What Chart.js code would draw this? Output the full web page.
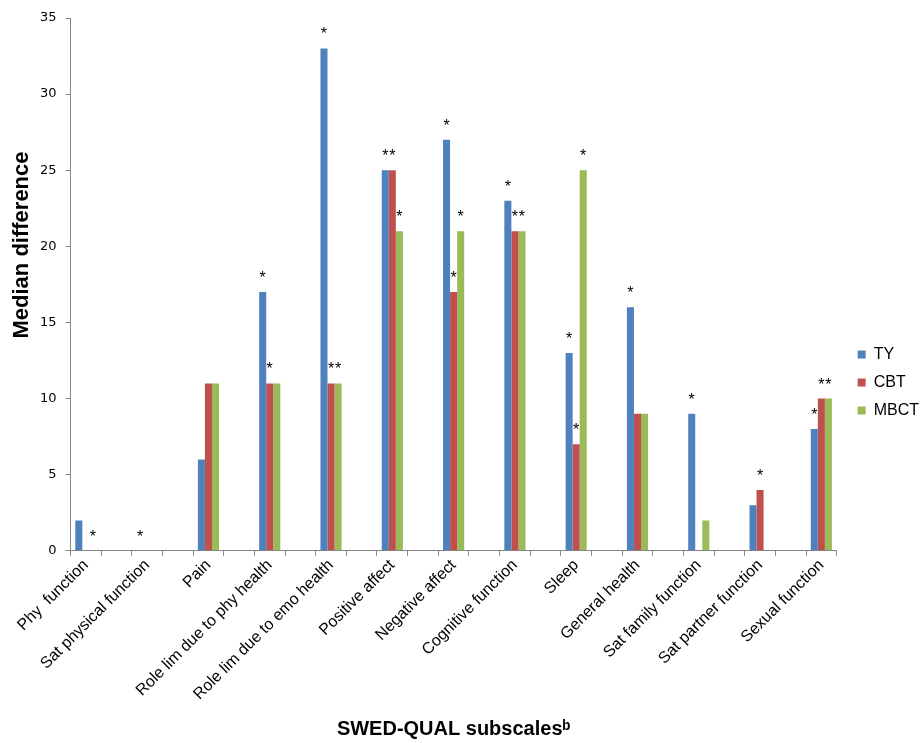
<!DOCTYPE html>
<html>
<head>
<meta charset="utf-8">
<script src="https://cdn.jsdelivr.net/npm/chart.js@4/dist/chart.umd.min.js"></script>
<style>
  body { margin: 0; background: #fff; }
  #wrap { width: 922px; height: 743px; }
</style>
</head>
<body>
<div id="wrap"><canvas id="chart" width="922" height="743"></canvas></div>
<script>
// subscales on the x axis
const subscales = [
  "Phy  function", "Sat physical function", "Pain", "Role lim due to phy health",
  "Role lim due to emo health", "Positive affect", "Negative affect", "Cognitive function",
  "Sleep", "General health", "Sat family function", "Sat partner function", "Sexual function"
];

// median differences per group
const tyValues   = [2, 0, 6, 17, 33, 25, 27, 23, 13, 16, 9, 3, 8];
const cbtValues  = [0, 0, 11, 11, 11, 25, 17, 21, 7, 9, 0, 4, 10];
const mbctValues = [0, 0, 11, 11, 11, 21, 21, 21, 25, 9, 2, 0, 10];

// significance marks above each bar ("" = none)
const tyStars   = ["", "*", "", "*", "*", "*", "*", "*", "*", "*", "*", "", "*"];
const cbtStars  = ["", "", "", "*", "*", "*", "*", "*", "*", "", "", "*", "*"];
const mbctStars = ["*", "", "", "", "*", "*", "*", "*", "*", "", "", "", "*"];

const yTicks = [0, 5, 10, 15, 20, 25, 30, 35];

// the original chart leaves an empty slot between categories
function spread(arr, filler) {
  const out = [];
  arr.forEach((v, i) => {
    out.push(v);
    if (i < arr.length - 1) out.push(filler);
  });
  return out;
}

const series = [
  { label: "TY", values: tyValues, stars: tyStars, color: "#4F81BD" },
  { label: "CBT", values: cbtValues, stars: cbtStars, color: "#C0504D" },
  { label: "MBCT", values: mbctValues, stars: mbctStars, color: "#9BBB59" }
];

const arial = "'Liberation Sans', Arial, sans-serif";

const starPlugin = {
  id: "stars",
  afterDatasetsDraw(chart) {
    const ctx = chart.ctx;
    const y = chart.scales.y;
    ctx.save();
    ctx.font = "16px " + arial;
    ctx.fillStyle = "#000";
    ctx.textAlign = "center";
    ctx.textBaseline = "alphabetic";
    series.forEach((s, i) => {
      const meta = chart.getDatasetMeta(i);
      s.stars.forEach((txt, k) => {
        if (!txt) return;
        const bar = meta.data[k * 2];
        const top = y.getPixelForValue(s.values[k]);
        ctx.fillText(txt, bar.x, top - 9);
      });
    });
    ctx.restore();
  }
};

// y title sits a bit above the middle of the axis in the original
const yTitlePlugin = {
  id: "yTitle",
  afterDraw(chart) {
    const ctx = chart.ctx;
    ctx.save();
    ctx.translate(22, 245);
    ctx.rotate(-Math.PI / 2);
    ctx.font = "bold 22px " + arial;
    ctx.fillStyle = "#000";
    ctx.textAlign = "center";
    ctx.textBaseline = "middle";
    ctx.fillText("Median difference", 0, 0);
    ctx.restore();
  }
};

// nudge the legend to where the original has it
const legendNudge = {
  id: "legendNudge",
  afterLayout(chart) {
    const lg = chart.legend;
    lg.left += 9; lg.right += 9;
    lg.top += 3; lg.bottom += 3;
  }
};

const grey = "#868686";

new Chart(document.getElementById("chart"), {
  type: "bar",
  data: {
    labels: spread(subscales, ""),
    datasets: series.map(s => ({
      label: s.label,
      data: spread(s.values, null),
      backgroundColor: s.color,
      borderWidth: 0,
      categoryPercentage: 0.69,
      barPercentage: 1
    }))
  },
  options: {
    responsive: false,
    animation: false,
    layout: { padding: { top: 18, left: 31, right: 2, bottom: 2 } },
    plugins: {
      tooltip: { enabled: false },
      legend: {
        position: "right",
        labels: {
          boxWidth: 8,
          boxHeight: 8,
          padding: 12,
          color: "#000",
          font: { family: arial, size: 16 }
        }
      }
    },
    scales: {
      x: {
        offset: true,
        grid: {
          offset: true,
          drawOnChartArea: false,
          drawTicks: true,
          tickLength: 5,
          color: grey
        },
        border: { color: grey },
        ticks: {
          autoSkip: false,
          maxRotation: 45,
          minRotation: 45,
          padding: 0,
          color: "#000",
          font: { family: arial, size: 16 }
        },
        title: {
          display: true,
          text: "SWED-QUAL subscalesᵇ",
          color: "#000",
          padding: { top: 13, bottom: 0 },
          font: { family: arial, size: 20, weight: "bold" }
        }
      },
      y: {
        min: 0,
        max: 35,
        afterBuildTicks(scale) {
          scale.ticks = yTicks.map(v => ({ value: v }));
        },
        grid: {
          drawOnChartArea: false,
          drawTicks: true,
          tickLength: 5,
          color: grey
        },
        border: { color: grey },
        ticks: {
          padding: 9,
          color: "#000",
          font: { family: "'DejaVu Sans', Verdana, sans-serif", size: 13 }
        }
      }
    }
  },
  plugins: [starPlugin, yTitlePlugin, legendNudge]
});
</script>
</body>
</html>
